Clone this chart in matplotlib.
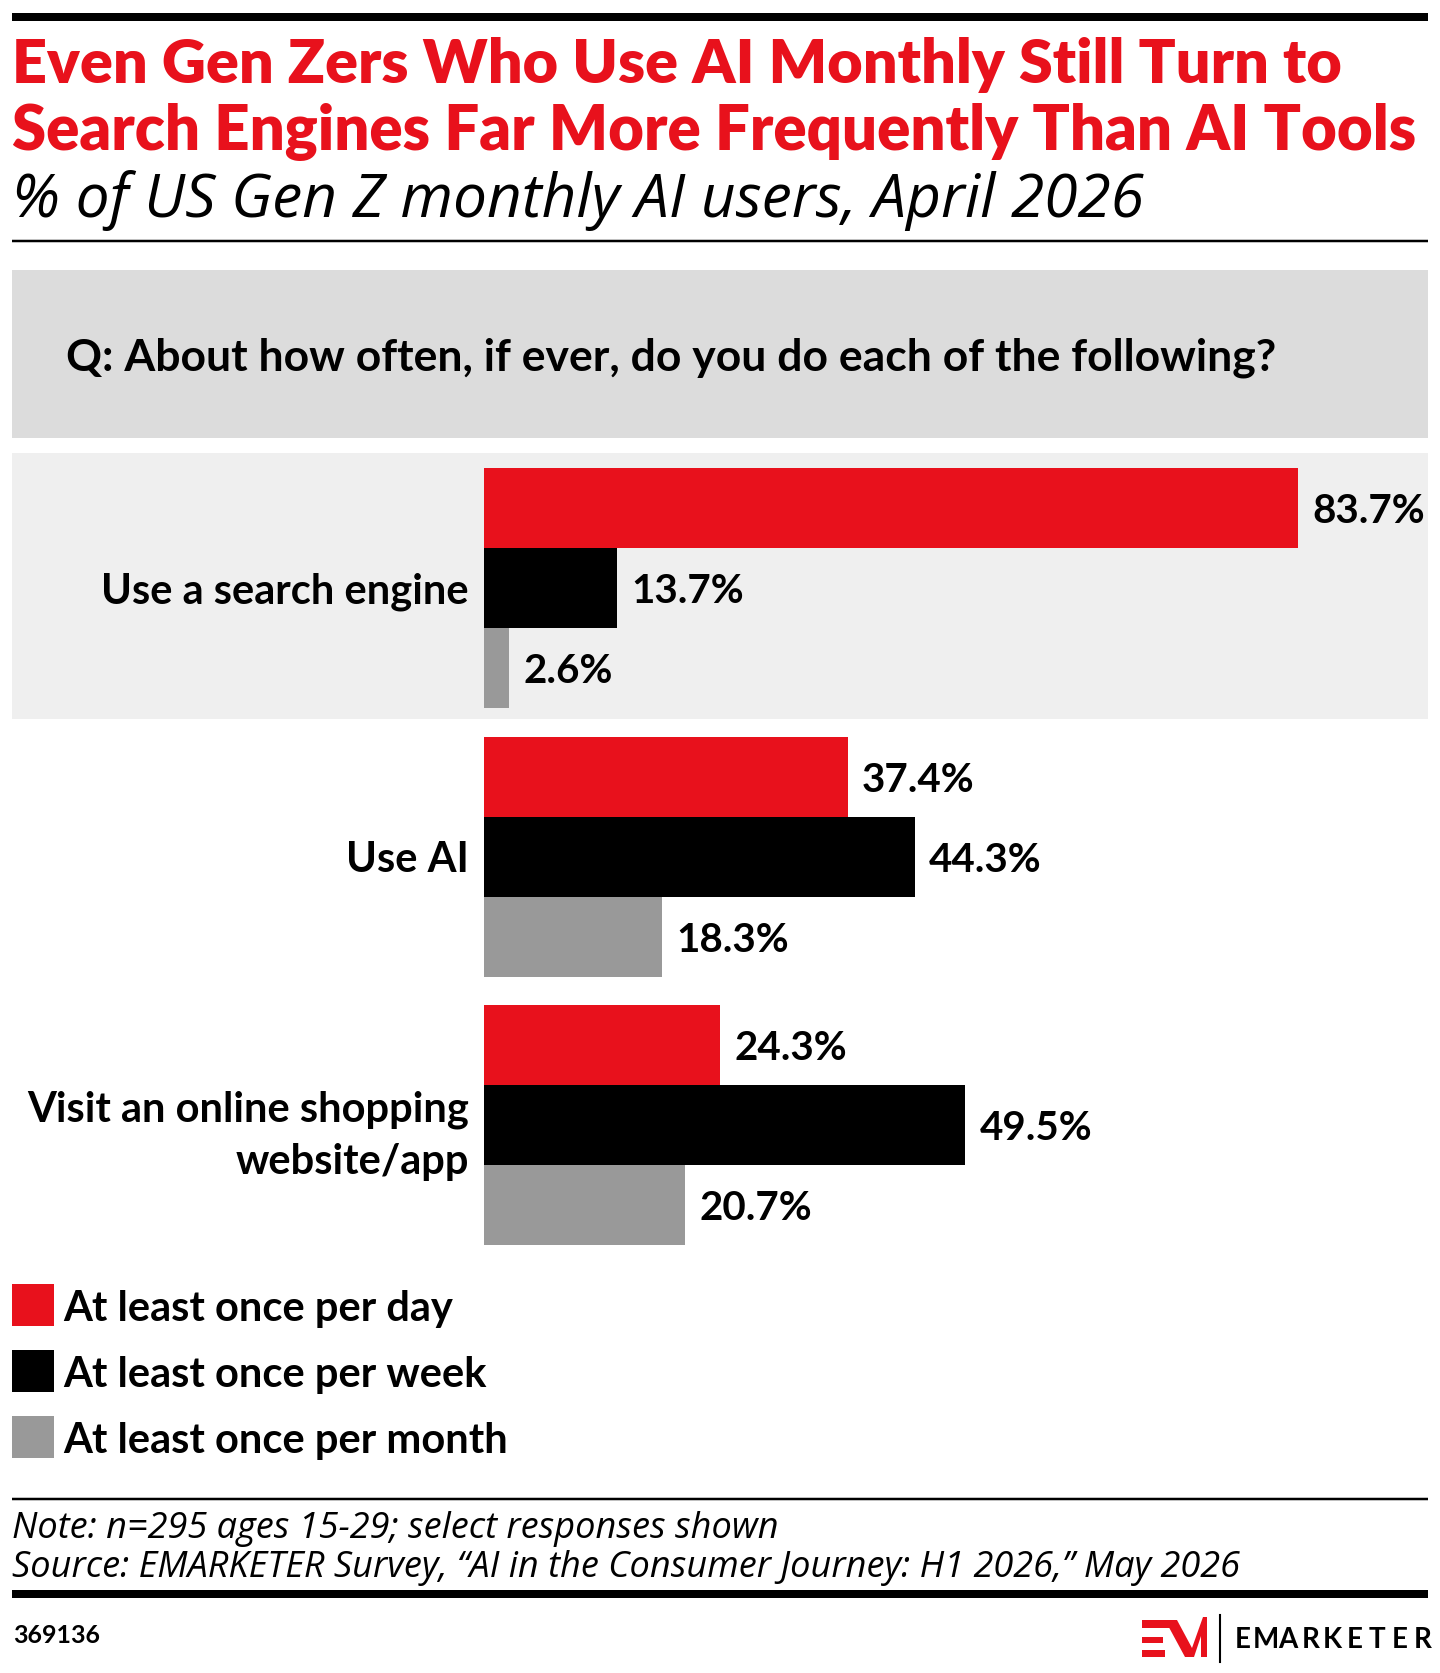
import matplotlib
matplotlib.use('Agg')
import matplotlib.pyplot as plt
from matplotlib.patches import Rectangle, Polygon

# data
categories = ['Use a search engine', 'Use AI', 'Visit an online shopping\nwebsite/app']
series_names = ['At least once per day', 'At least once per week', 'At least once per month']
daily = [83.7, 37.4, 24.3]
weekly = [13.7, 44.3, 49.5]
monthly = [2.6, 18.3, 20.7]

title_lines = ['Even Gen Zers Who Use AI Monthly Still Turn to',
               'Search Engines Far More Frequently Than AI Tools']
subtitle = '% of US Gen Z monthly AI users, April 2026'
question = 'Q: About how often, if ever, do you do each of the following?'
note = 'Note: n=295 ages 15-29; select responses shown'
source = 'Source: EMARKETER Survey, \u201cAI in the Consumer Journey: H1 2026,\u201d May 2026'
chart_id = '369136'

RED = '#e8111c'
BLACK = '#000000'
GRAY = '#999999'
colors = [RED, BLACK, GRAY]
FONT = 'Lato'
IFONT = 'Open Sans'

W, H = 1440, 1673
fig = plt.figure(figsize=(W / 100, H / 100), dpi=100)
fig.patch.set_facecolor('white')


def fx(x):
    return x / W


def fy(y):
    return 1 - y / H


def hline(y, lw_px, x0=12, x1=1428):
    fig.add_artist(plt.Line2D([fx(x0), fx(x1)], [fy(y), fy(y)], color='black',
                              linewidth=lw_px * 0.72, solid_capstyle='butt'))


def box(x0, y0, x1, y1, color):
    fig.add_artist(Rectangle((fx(x0), fy(y1)), fx(x1) - fx(x0), fy(y0) - fy(y1),
                             facecolor=color, edgecolor='none', zorder=0))


# header
hline(17, 8)
fig.text(fx(12), fy(83), title_lines[0], color=RED, fontsize=44, fontweight='heavy',
         family=FONT, va='baseline')
fig.text(fx(12), fy(150), title_lines[1], color=RED, fontsize=44.4, fontweight='heavy',
         family=FONT, va='baseline')
fig.text(fx(12), fy(217), subtitle, color='black', fontsize=43.5, style='italic',
         family=IFONT, va='baseline')
hline(241, 2.5)

# question box and band
box(12, 270, 1428, 438, '#dcdcdc')
fig.text(fx(66), fy(371), question, fontsize=32, fontweight='bold', family=FONT,
         va='baseline')
box(12, 453, 1428, 719, '#efefef')

# bars
ax_top, ax_bot = 453, 1260
ax = fig.add_axes([fx(484), fy(ax_bot), fx(1428) - fx(484), fy(ax_top) - fy(ax_bot)])
ax.set_facecolor('none')
ax.set_xlim(0, (1428 - 484) / 9.726)
ax.set_ylim(ax_bot - ax_top, 0)
pitch, bh = 268.6, 80
centers = [135 + i * pitch for i in range(len(categories))]
for j, vals in enumerate([daily, weekly, monthly]):
    ys = [c + (j - 1) * bh for c in centers]
    ax.barh(ys, vals, height=bh, color=colors[j], linewidth=0)
    for y, v in zip(ys, vals):
        ax.text(v + 1.45, y, f'{v}%', va='center_baseline', ha='left', fontsize=29,
                fontweight='bold', family=FONT)
ax.set_yticks(centers)
ax.set_yticklabels(categories, fontsize=30, fontweight='bold', family=FONT,
                   linespacing=1.45)
ax.tick_params(axis='y', length=0, pad=11)
ax.set_xticks([])
for s in ax.spines.values():
    s.set_visible(False)

# legend
for j, name in enumerate(series_names):
    y0 = 1284 + j * 66
    box(12, y0, 54, y0 + 42, colors[j])
    fig.text(fx(63), fy(y0 + 37), name, fontsize=30, fontweight='bold', family=FONT,
             va='baseline')

# footer
hline(1499, 2.5)
fig.text(fx(12), fy(1538), note, fontsize=26, style='italic', family=IFONT, va='baseline')
fig.text(fx(12), fy(1577), source, fontsize=26, style='italic', family=IFONT, va='baseline')
hline(1594, 8)
fig.text(fx(13), fy(1643), chart_id, fontsize=18, fontweight='bold', family=FONT,
         va='baseline')

# logo
for (y0, y1, x1) in [(1620, 1628, 1170), (1637, 1643, 1163), (1650, 1657, 1165)]:
    box(1142, y0, x1, y1, RED)
m_pts = [(1165, 1620), (1177, 1620), (1192, 1648), (1203, 1617), (1207, 1617),
         (1207, 1657), (1201, 1657), (1201, 1636), (1194, 1657), (1185, 1657)]
fig.add_artist(Polygon([(fx(x), fy(y)) for x, y in m_pts], closed=True,
                       facecolor=RED, edgecolor='none'))
fig.add_artist(plt.Line2D([fx(1220), fx(1220)], [fy(1615), fy(1662)], color='black',
                          linewidth=1.5))
for k, ch in enumerate('EMARKETER'):
    fig.text(fx(1243 + k * 22.4), fy(1648), ch, fontsize=20, fontweight='bold',
             family=FONT, va='baseline', ha='center')

fig.savefig('out.png', dpi=100)
